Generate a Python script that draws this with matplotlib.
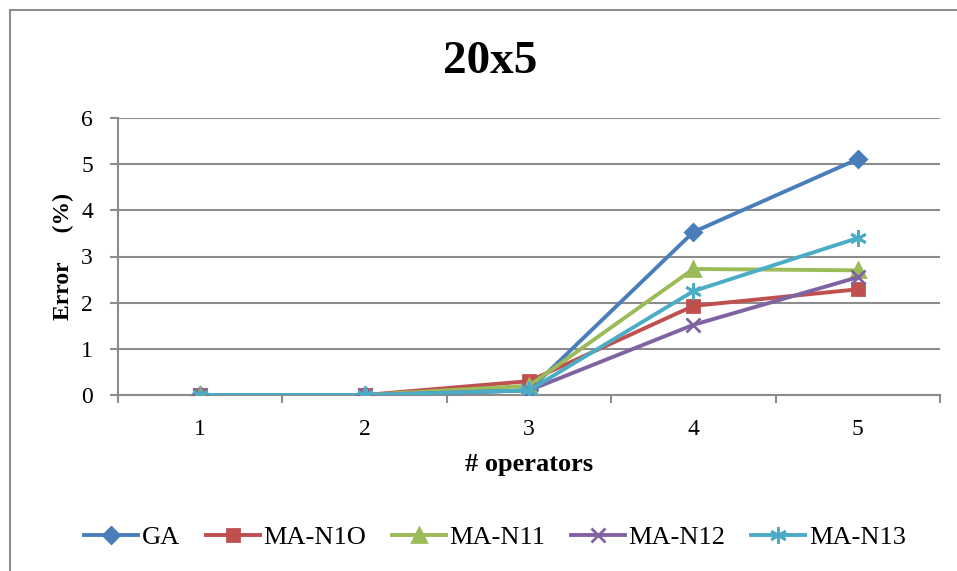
import matplotlib.pyplot as plt
import matplotlib.patches as patches
import numpy as np

plt.rcParams['font.family'] = ['Liberation Serif', 'DejaVu Serif']

operators = [1, 2, 3, 4, 5]
ga = [0, 0, 0.1, 3.53, 5.11]
ma_n10 = [0, 0, 0.3, 1.93, 2.29]
ma_n11 = [0, 0, 0.2, 2.73, 2.70]
ma_n12 = [0, 0, 0.1, 1.52, 2.55]
ma_n13 = [0, 0, 0.1, 2.25, 3.40]

series = [
    ('GA', ga, '#4A7EBB', 'D', 8),
    ('MA-N1O', ma_n10, '#C0504D', 's', 9),
    ('MA-N11', ma_n11, '#9BBB59', '^', 10),
    ('MA-N12', ma_n12, '#8064A2', 'x', 10),
    ('MA-N13', ma_n13, '#4BACC6', (6, 2, 0), 12),
]

fig = plt.figure(figsize=(9.57, 5.71), dpi=100)
ax = fig.add_axes([118 / 957, 1 - 395 / 571, (940 - 118) / 957, (395 - 118) / 571])

# outer chart border (cropped on right and bottom)
fig.patches.append(patches.Rectangle((10 / 957, -0.1), 1.2, 1 - 10 / 571 + 0.1,
                                     transform=fig.transFigure, fill=False,
                                     edgecolor='#8C8C8C', linewidth=1.5))

for name, vals, col, mk, ms in series:
    ax.plot(operators, vals, color=col, linewidth=2.8, marker=mk, markersize=ms,
            markeredgecolor=col, markeredgewidth=2, label=name, zorder=3)

ax.set_xlim(0.5, 5.5)
ax.set_ylim(0, 6)
ax.set_yticks(np.arange(0, 7, 1))
ax.set_xticks(operators)
ax.set_xticks(np.arange(0.5, 6, 1), minor=True)
ax.tick_params(axis='x', which='major', length=0, labelsize=17, pad=17)
ax.tick_params(axis='x', which='minor', length=6, width=1.5, color='#8C8C8C', direction='out')
ax.tick_params(axis='y', length=6, width=1.5, color='#8C8C8C', labelsize=17, pad=12)
ax.grid(axis='y', color='#8C8C8C', linewidth=1.5, zorder=0)
for s in ['top', 'right']:
    ax.spines[s].set_visible(False)
for s in ['left', 'bottom']:
    ax.spines[s].set_color('#8C8C8C')
    ax.spines[s].set_linewidth(1.5)

ax.set_xlabel('# operators', fontsize=19, fontweight='bold', labelpad=10)
ax.set_ylabel('Error     (%)', fontsize=17, fontweight='bold', labelpad=5)
fig.text(490 / 957, 1 - 73 / 571, '20x5', fontsize=34, fontweight='bold',
         ha='center', va='baseline')

fig.legend(loc='center', bbox_to_anchor=(495 / 957, 1 - 537 / 571), ncol=5,
           frameon=False, fontsize=19, handlelength=2.05, columnspacing=0.95,
           handletextpad=0.15)

fig.savefig('out.png', dpi=100)
